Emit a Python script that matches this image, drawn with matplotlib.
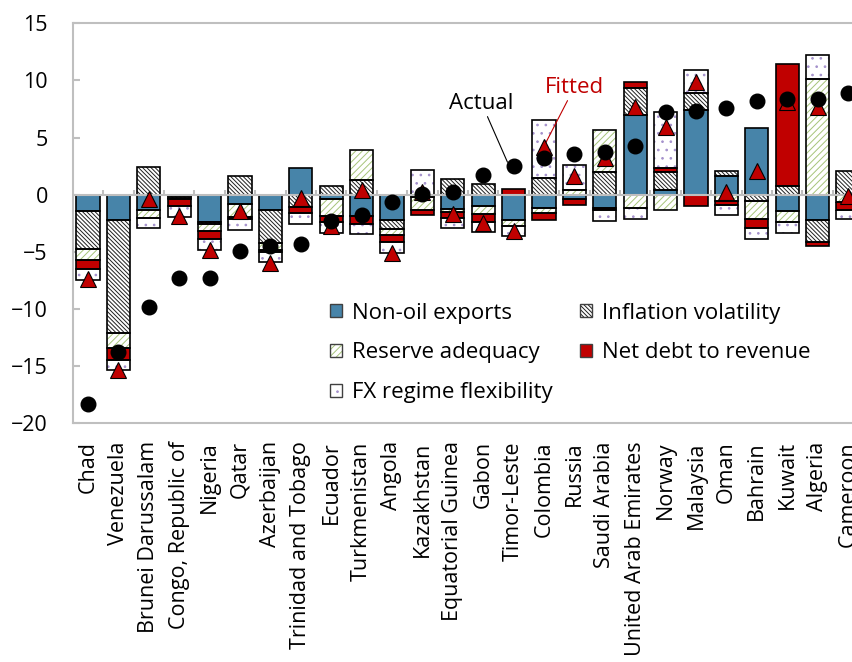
import numpy as np
import matplotlib.pyplot as plt
from matplotlib.patches import Patch

plt.rcParams['font.family'] = ['Open Sans', 'DejaVu Sans']
plt.rcParams['font.size'] = 15
plt.rcParams['hatch.linewidth'] = 0.7

#Data
countries = ['Chad', 'Venezuela', 'Brunei Darussalam', 'Congo, Republic of', 'Nigeria', 'Qatar',
             'Azerbaijan', 'Trinidad and Tobago', 'Ecuador', 'Turkmenistan', 'Angola', 'Kazakhstan',
             'Equatorial Guinea', 'Gabon', 'Timor-Leste', 'Colombia', 'Russia', 'Saudi Arabia',
             'United Arab Emirates', 'Norway', 'Malaysia', 'Oman', 'Bahrain', 'Kuwait', 'Algeria', 'Cameroon']
non_oil = [-1.4, -2.2, -1.3, -0.1, -2.4, -0.8, -1.3, 2.3, -0.4, -1.9, -2.2, -0.2, -1.25,
           -0.95, -2.25, -1.15, -0.4, -1.15, 7.0, 0.45, 7.45, 1.6, 5.85, -1.45, -2.25, 0.0]
inflation = [-3.35, -9.9, 2.4, -0.2, -0.15, 1.6, -2.9, -1.05, 0.75, 1.3, -0.8, 0.0, 1.35,
             0.95, 0.0, 1.45, 0.0, 1.95, 2.3, 1.5, 1.45, 0.45, -0.55, 0.75, -1.9, 2.05]
reserve = [-0.95, -1.3, -0.7, -0.1, -0.6, -1.15, -0.6, 0.0, -1.45, 2.6, -0.5, -1.1, -0.25,
           -0.75, -0.45, -0.45, 0.4, 3.75, -1.2, -1.35, 0.0, -0.55, -1.55, -0.95, 10.15, -0.65]
net_debt = [-0.8, -1.1, 0.0, -0.6, -0.75, -0.15, -0.2, -0.55, -0.55, -0.65, -0.65, -0.45, -0.55,
            -0.65, 0.5, -0.65, -0.5, -0.2, 0.55, 0.35, -1.0, -0.35, -0.8, 10.7, -0.35, -0.65]
fx_flex = [-0.95, -0.8, -0.9, -0.95, -0.95, -0.95, -0.85, -0.95, -0.95, -0.85, -0.95, 2.15, -0.85,
           -0.95, -0.95, 5.05, 2.2, -0.95, -0.95, 4.95, 2.05, -0.85, -0.95, -0.95, 2.1, -0.85]
actual = [-18.3, -13.8, -9.8, -7.3, -7.3, -4.9, -4.45, -4.35, -2.3, -1.75, -0.6, 0.1, 0.2,
          1.75, 2.5, 3.2, 3.6, 3.7, 4.3, 7.2, 7.3, 7.6, 8.2, 8.35, 8.4, 8.9]
fitted = [-7.4, -15.3, -0.4, -1.9, -4.8, -1.4, -6.0, -0.3, -2.7, 0.45, -5.1, 0.2, -1.65,
          -2.45, -3.2, 4.2, 1.6, 3.2, 7.7, 5.9, 9.85, 0.25, 2.1, 8.1, 7.7, -0.15]

series = [('Non-oil exports', non_oil, '#4784A9', None, None),
          ('Inflation volatility', inflation, 'white', '\\\\\\\\\\\\\\\\', '#202020'),
          ('Reserve adequacy', reserve, 'white', '/////', '#A6C47A'),
          ('Net debt to revenue', net_debt, '#C00000', None, None),
          ('FX regime flexibility', fx_flex, 'white', '..', '#A592CC')]

grey = '#BFBFBF'
red = '#C00000'

fig = plt.figure(figsize=(8.52, 6.62), dpi=100)
ax = fig.add_axes([0.0854, 0.3606, 0.9277, 0.6041])

x = np.arange(len(countries))
width = 0.76
pos = np.zeros(len(x))
neg = np.zeros(len(x))
handles = {}
for name, vals, fc, hatch, hc in series:
    vals = np.array(vals)
    bottoms = np.where(vals >= 0, pos, neg)
    m = vals != 0
    if hatch:
        ax.bar(x[m], vals[m], width, bottom=bottoms[m], color=fc, edgecolor=hc,
               hatch=hatch, linewidth=0, zorder=2)
    else:
        ax.bar(x[m], vals[m], width, bottom=bottoms[m], color=fc, linewidth=0, zorder=2)
    ax.bar(x[m], vals[m], width, bottom=bottoms[m], fill=False, edgecolor='black',
           linewidth=1.2, zorder=2.5)
    pos += np.clip(vals, 0, None)
    neg += np.clip(vals, None, 0)
    #legend handle
    if hatch:
        handles[name] = (Patch(facecolor=fc, edgecolor=hc, hatch=hatch, linewidth=0),
                         Patch(fill=False, edgecolor='#404040', linewidth=1))
    else:
        handles[name] = Patch(facecolor=fc, edgecolor='#404040', linewidth=1)

#zero axis with category ticks
ax.axhline(0, color=grey, lw=1.5, zorder=3)
ax.vlines(np.arange(0.5, len(x)), 0, 0.45, color=grey, lw=1.5, zorder=1)

ax.plot(x, fitted, linestyle='none', marker='^', markersize=12, color=red,
        markeredgecolor='black', markeredgewidth=0.8, zorder=4)
ax.plot(x, actual, linestyle='none', marker='o', markersize=10.5, color='black', zorder=5)

ax.annotate('Actual', xy=(13.8, 2.85), xytext=(12.95, 8.0), ha='center', va='center',
            fontsize=16, arrowprops=dict(arrowstyle='-', color='black', lw=0.8, shrinkA=0, shrinkB=0))
ax.annotate('Fitted', xy=(15.05, 4.5), xytext=(16.0, 9.4), ha='center', va='center',
            fontsize=16, color=red,
            arrowprops=dict(arrowstyle='-', color=red, lw=0.8, shrinkA=0, shrinkB=0))

ax.set_xlim(-0.5, len(x) - 0.5)
ax.set_ylim(-20, 15)
ax.set_yticks(range(-20, 16, 5))
ax.set_xticks(x)
ax.set_xticklabels(countries, rotation=90)
ax.tick_params(axis='y', direction='in', length=5, width=1.5, color=grey, pad=18, labelsize=15.5)
ax.tick_params(axis='x', length=0, pad=13, labelsize=15.5)
for s in ['left', 'top', 'bottom']:
    ax.spines[s].set_color(grey)
    ax.spines[s].set_linewidth(1.5)
ax.spines['right'].set_visible(False)

order = ['Non-oil exports', 'Reserve adequacy', 'FX regime flexibility',
         'Inflation volatility', 'Net debt to revenue']
ax.legend([handles[k] for k in order], order, ncol=2, loc='upper left',
          bbox_to_anchor=(0.325, 0.302), frameon=False, fontsize=16,
          handlelength=0.55, handleheight=0.55, handletextpad=0.45,
          columnspacing=1.25, labelspacing=0.85, borderpad=0, borderaxespad=0)

fig.savefig('out.png', dpi=100)
